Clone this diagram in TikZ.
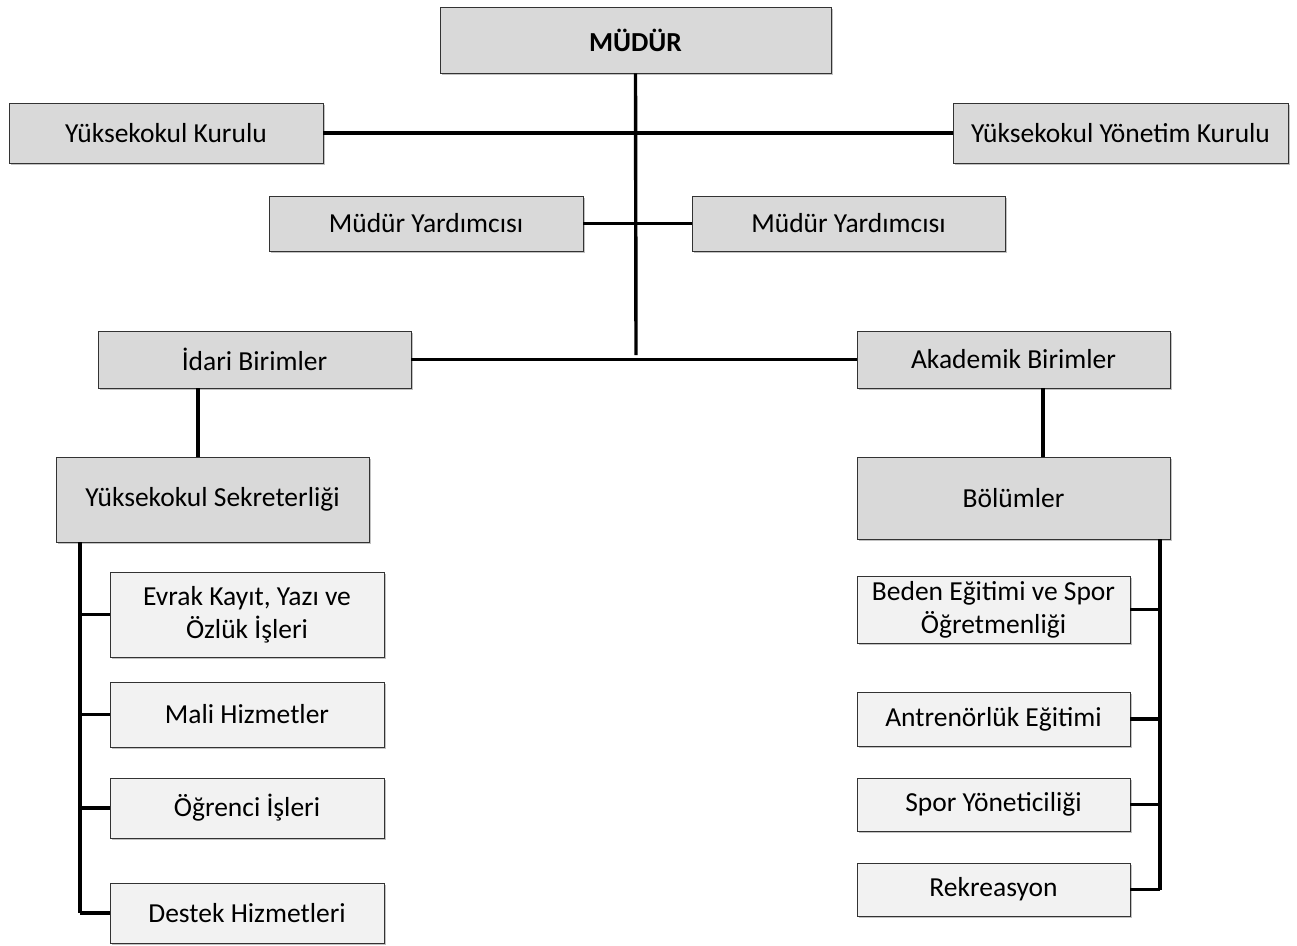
\documentclass[tikz,border=0pt]{standalone}
\usepackage{fontspec}
\setmainfont{Carlito}
\usepackage{tikz}
\usetikzlibrary{shadows}

\begin{document}
\begin{tikzpicture}[x=1pt,y=-1pt,
    topbox/.style={draw=black!80, fill=black!15, line width=0.9pt, font=\fontsize{27.5}{33}\selectfont,
      drop shadow={shadow xshift=1.5pt, shadow yshift=-1.5pt, fill=black!40, opacity=0.6},
      inner sep=2pt, align=center},
    subbox/.style={topbox, fill=black!5},
    link/.style={line width=3.4pt}]
    \useasboundingbox (0,0) rectangle (1297,945);

    % upper level
    \node[topbox, minimum width=391pt, minimum height=66pt] (mudur) at (635.5,40) {\textbf{MÜDÜR}};
    \node[topbox, minimum width=314pt, minimum height=60pt] (kurulu) at (166,133) {Yüksekokul Kurulu};
    \node[topbox, minimum width=335pt, minimum height=60pt] (yonetim) at (1120.5,133) {Yüksekokul Yönetim Kurulu};
    \node[topbox, minimum width=314pt, minimum height=55pt] (yard1) at (426,223.5) {Müdür Yardımcısı};
    \node[topbox, minimum width=313pt, minimum height=55pt] (yard2) at (848.5,223.5) {Müdür Yardımcısı};
    \node[topbox, minimum width=313pt, minimum height=57pt] (idari) at (254.5,359.5) {İdari Birimler};
    \node[topbox, minimum width=313pt, minimum height=57pt] (akademik) at (1013.5,359.5) {Akademik Birimler};
    \node[topbox, minimum width=313pt, minimum height=85pt] (sekreter) at (212.5,499.5) {Yüksekokul Sekreterliği};
    \node[topbox, minimum width=313pt, minimum height=82pt] (bolumler) at (1013.5,498) {Bölümler};

    % left units
    \node[subbox, minimum width=274pt, minimum height=85pt] (evrak) at (247,614.5) {Evrak Kayıt, Yazı ve\\Özlük İşleri};
    \node[subbox, minimum width=274pt, minimum height=65pt] (mali) at (247,714.5) {Mali Hizmetler};
    \node[subbox, minimum width=274pt, minimum height=60pt] (ogrenci) at (247,808) {Öğrenci İşleri};
    \node[subbox, minimum width=274pt, minimum height=60pt] (destek) at (247,913) {Destek Hizmetleri};

    % right units
    \node[subbox, minimum width=273pt, minimum height=67pt] (beden) at (993.5,609.5) {Beden Eğitimi ve Spor\\Öğretmenliği};
    \node[subbox, minimum width=273pt, minimum height=54pt] (antrenor) at (993.5,719) {Antrenörlük Eğitimi};
    \node[subbox, minimum width=273pt, minimum height=53pt] (sporyon) at (993.5,804.5) {Spor Yöneticiliği};
    \node[subbox, minimum width=273pt, minimum height=53pt] (rekreasyon) at (993.5,889.5) {Rekreasyon};

    % connectors
    \coordinate (hub) at (636,355);
    \coordinate (idaridown) at (198,388);
    \coordinate (akadown) at (1043,388);
    \coordinate (leftbus) at (80,542);
    \coordinate (rightbus) at (1160,539);

    \draw[link] (mudur.south) -- (hub);
    \draw[link] (kurulu.east) -- (yonetim.west);
    \draw[link] (yard1.east) -- (yard2.west);
    \draw[link] (idari.east) -- (akademik.west);
    \draw[link] (idaridown) -- (idaridown |- sekreter.north);
    \draw[link] (akadown) -- (akadown |- bolumler.north);

    \draw[link] (leftbus) -- (leftbus |- destek.west);
    \foreach \b in {evrak,mali,ogrenci,destek}
        \draw[link] (leftbus |- \b.west) -- (\b.west);

    \draw[link] (rightbus) -- (rightbus |- rekreasyon.east);
    \foreach \b in {beden,antrenor,sporyon,rekreasyon}
        \draw[link] (rightbus |- \b.east) -- (\b.east);
\end{tikzpicture}
\end{document}
